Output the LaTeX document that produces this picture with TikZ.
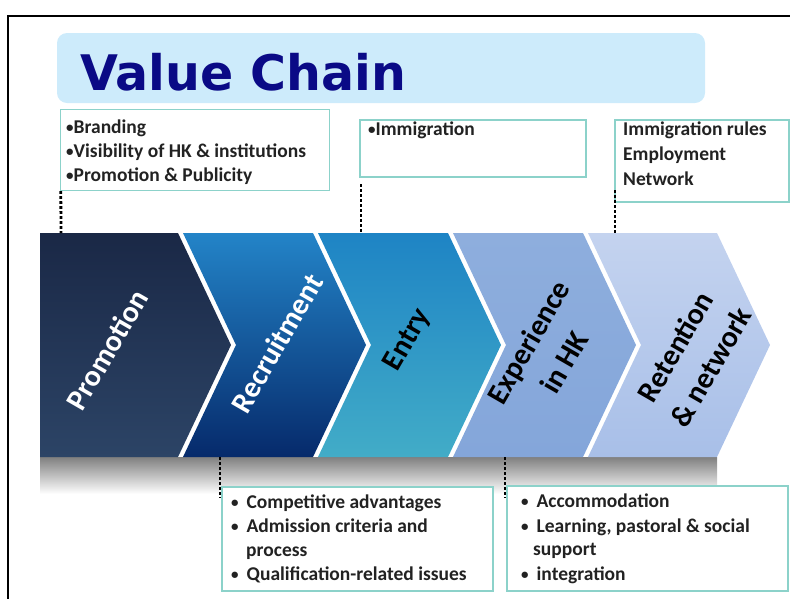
\documentclass[tikz,border=0pt]{standalone}
\usepackage{fontspec}
\setmainfont{Carlito}
\newfontfamily\titlefont{DejaVu Sans}
\newcommand{\mybul}{{\fontsize{15}{15}\selectfont\raisebox{1pt}{•}}}
\definecolor{bandblue}{HTML}{CDEBFB}
\definecolor{titlenavy}{HTML}{0A0A86}
\definecolor{boxteal}{HTML}{8CD2CA}
\definecolor{txtgray}{HTML}{222222}
\definecolor{promoTop}{HTML}{1A2846}
\definecolor{promoBot}{HTML}{2C4466}
\definecolor{recTop}{HTML}{2384C8}
\definecolor{recBot}{HTML}{062A6B}
\definecolor{entTop}{HTML}{1E84C5}
\definecolor{entBot}{HTML}{42ACC7}
\definecolor{expTop}{HTML}{8EAEDD}
\definecolor{expBot}{HTML}{84A6DA}
\definecolor{retTop}{HTML}{C4D3EF}
\definecolor{retBot}{HTML}{A8BFE8}
\tikzset{
  infobox/.style={draw=boxteal, line width=1.4pt, fill=white, inner sep=0pt},
  boxtext/.style={anchor=base west, inner sep=0pt, text=txtgray,
    font=\bfseries\fontsize{19.5}{24}\selectfont},
  dotconn/.style={line width=2.8pt, dash pattern=on 2.6pt off 2.4pt, black},
  chevlabel/.style={rotate=60, inner sep=0pt, align=center,
    font=\bfseries\fontsize{30}{38}\selectfont},
}
\begin{document}
\begin{tikzpicture}[x=1pt,y=-1pt]
\useasboundingbox (0,0) rectangle (790,598);
% frame
\draw[line width=2.2pt] (8,600) -- (8,16) -- (792,16);
% title band
\fill[bandblue, rounded corners=10pt] (57,33) rectangle (705,103);
\node[anchor=base west, inner sep=0pt, text=titlenavy,
  font=\titlefont\bfseries\fontsize{49}{49}\selectfont] (title) at (80,90) {Value Chain};

% shadow under chevrons
\shade[top color=black!50, bottom color=white] (40,457) rectangle (717,494);

% chevrons
\shade[top color=promoTop, bottom color=promoBot]
  (40,233) -- (178,233) -- (231,345) -- (178,457) -- (40,457) -- cycle;
\shade[top color=recTop, bottom color=recBot]
  (183,233) -- (313,233) -- (366,345) -- (313,457) -- (183,457) -- (236,345) -- cycle;
\shade[top color=entTop, bottom color=entBot]
  (318,233) -- (448,233) -- (501,345) -- (448,457) -- (318,457) -- (371,345) -- cycle;
\shade[top color=expTop, bottom color=expBot]
  (453,233) -- (583,233) -- (636,345) -- (583,457) -- (453,457) -- (506,345) -- cycle;
\shade[top color=retTop, bottom color=retBot]
  (588,233) -- (717,233) -- (770,345) -- (717,457) -- (588,457) -- (641,345) -- cycle;

\coordinate (c1top) at (61,233);
\coordinate (c3top) at (361,233);
\coordinate (c5top) at (615,233);
\coordinate (c2bot) at (220,457);
\coordinate (c4bot) at (505,457);

% chevron labels
\node[chevlabel, text=white] (lpromo) at (107,350) {Promotion};
\node[chevlabel, text=white] (lrec) at (277,343) {Recruitment};
\node[chevlabel, text=black] (lent) at (408,340) {Entry};
\node[chevlabel, text=black] (lexp) at (546,352) {Experience\\[3pt]in HK};
\node[chevlabel, text=black] (lret) at (693,357) {Retention\\[3pt]\& network};

% top boxes
\node[infobox, minimum width=269pt, minimum height=81pt] (b1) at (195,150) {};
\node[infobox, minimum width=226pt, minimum height=57pt] (b2) at (473,148.5) {};
\node[infobox, minimum width=174pt, minimum height=82pt] (b3) at (702,161) {};
% bottom boxes
\node[infobox, minimum width=271pt, minimum height=104pt] (b4) at (357.5,539) {};
\node[infobox, minimum width=281pt, minimum height=105pt] (b5) at (647.5,538.5) {};

% connectors
\draw[dotconn] ([xshift=1pt]b1.south west) -- (c1top);
\draw[dotconn] (361,184) coordinate (c3start) -- (c3top);
\draw[dotconn] (615,190) coordinate (c5start) -- (c5top);
\draw[dotconn] (c2bot) -- (220,498) coordinate (c2end);
\draw[dotconn] (c4bot) -- (505,498) coordinate (c4end);

% box texts
\node[boxtext] (t11) at (66,133) {\mybul Branding};
\node[boxtext] (t12) at (66,157) {\mybul Visibility of HK \& institutions};
\node[boxtext] (t13) at (66,181) {\mybul Promotion \& Publicity};

\node[boxtext] (t21) at (368,135) {\mybul Immigration};

\node[boxtext] (t31) at (623,135) {Immigration rules};
\node[boxtext] (t32) at (623,160) {Employment};
\node[boxtext] (t33) at (623,185) {Network};

\node[boxtext] (t41) at (231,508) {\mybul\hspace{8pt}Competitive advantages};
\node[boxtext] (t42) at (231,532) {\mybul\hspace{8pt}Admission criteria and};
\node[boxtext] (t43) at (246,556) {process};
\node[boxtext] (t44) at (231,580) {\mybul\hspace{8pt}Qualification-related issues};

\node[boxtext] (t51) at (521,507) {\mybul\hspace{8pt}Accommodation};
\node[boxtext] (t52) at (521,532) {\mybul\hspace{8pt}Learning, pastoral \& social};
\node[boxtext] (t53) at (533,555) {support};
\node[boxtext] (t54) at (521,580) {\mybul\hspace{8pt}integration};
\end{tikzpicture}
\end{document}
